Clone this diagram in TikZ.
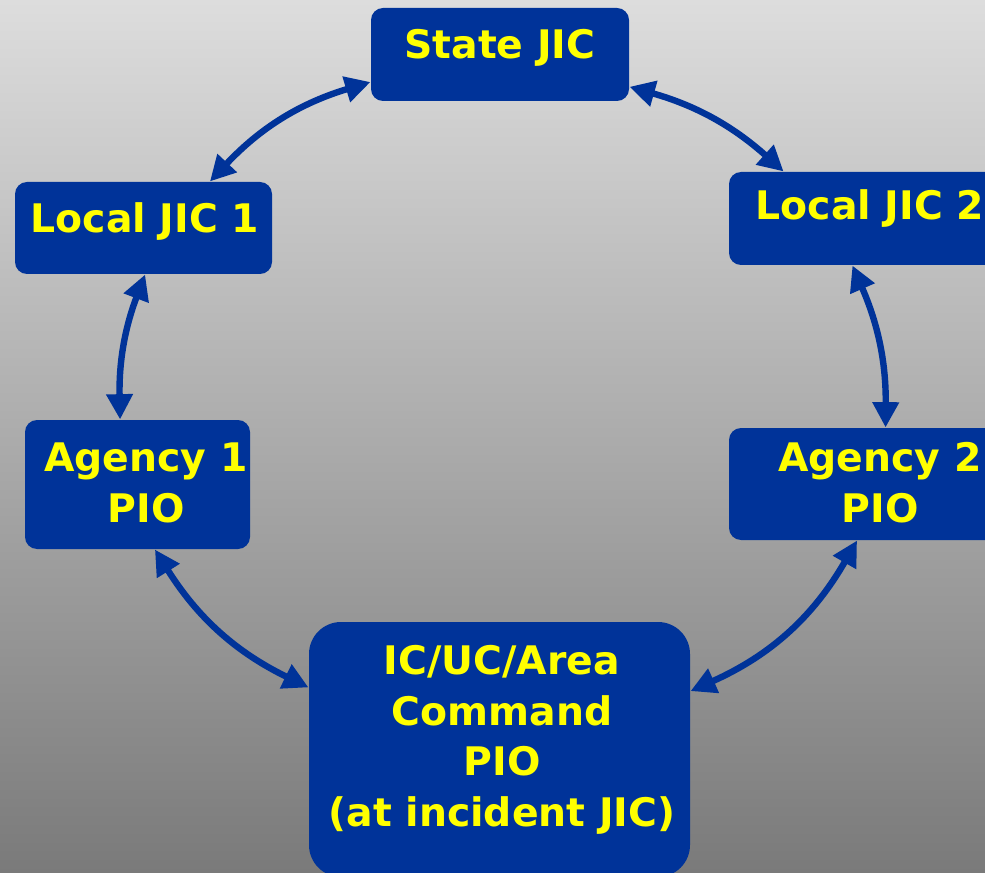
\documentclass[tikz,border=0pt]{standalone}
\usepackage{fontspec}
\setmainfont{DejaVu Sans}
\usetikzlibrary{arrows.meta}
\definecolor{jicblue}{RGB}{0,51,153}
\definecolor{jicyellow}{RGB}{255,255,0}
\definecolor{bgtop}{RGB}{221,221,221}
\definecolor{bgbot}{RGB}{122,122,122}
\tikzset{every picture/.style={line width=0.75pt}}
\tikzset{
  jicbox/.style={draw=none, fill=jicblue, rounded corners=9pt, inner sep=0pt},
  jictext/.style={text=jicyellow, font=\fontsize{29.5}{38}\selectfont\bfseries, align=center, inner sep=0pt},
  jiclink/.style={draw=jicblue, line width=4.8pt, {Triangle[length=19pt,width=19pt]}-{Triangle[length=19pt,width=19pt]}},
}

\begin{document}
\begin{tikzpicture}[x=0.75pt,y=0.75pt,yscale=-1,xscale=1]
\useasboundingbox (0,0) rectangle (985,873);

%Background
\shade [top color=bgtop, bottom color=bgbot] (0,0) rectangle (985,873);

%Shape: Rounded Rectangle [State JIC]
\node [jicbox, minimum width=193.5pt, minimum height=69.75pt] (state) at (500,54.5) {};
%Shape: Rounded Rectangle [Local JIC 1]
\node [jicbox, minimum width=192.75pt, minimum height=69pt] (local1) at (143.5,228) {};
%Shape: Rounded Rectangle [Local JIC 2]
\node [jicbox, minimum width=204pt, minimum height=69.75pt] (local2) at (865,218.5) {};
%Shape: Rounded Rectangle [Agency 1]
\node [jicbox, minimum width=168.75pt, minimum height=96.75pt] (agency1) at (137.5,484.5) {};
%Shape: Rounded Rectangle [Agency 2]
\node [jicbox, minimum width=204pt, minimum height=84pt] (agency2) at (865,484) {};
%Shape: Rounded Rectangle [IC/UC/Area Command]
\node [jicbox, rounded corners=24pt, minimum width=285.75pt, minimum height=191.25pt] (command) at (499.5,749.5) {};

%Curved Lines
\draw [jiclink] (state.192) to [bend left=15] (local1.35);
\draw [jiclink] (state.346) to [bend right=13] (local2.150);
\draw [jiclink] (local1.272) to [bend left=11] (agency1.105);
\draw [jiclink] (local2.255) to [bend right=12] (agency2.70);
\draw [jiclink] (agency1.285) to [bend left=16] (command.162);
\draw [jiclink] (agency2.262) to [bend right=18] (command.17);

% Text Node
\node [jictext] (statetxt) at (500,48) {State JIC};
% Text Node
\node [jictext] (local1txt) at (145,221) {Local JIC 1};
% Text Node
\node [jictext] (local2txt) at (870,208) {Local JIC 2};
% Text Node
\node [jictext] (agency1txt) at (146,483) {Agency 1\\PIO};
% Text Node
\node [jictext] (agency2txt) at (880,483) {Agency 2\\PIO};
% Text Node
\node [jictext] (commandtxt) at (502,740) {IC/UC/Area\\Command\\PIO\\(at incident JIC)};

\end{tikzpicture}
\end{document}
